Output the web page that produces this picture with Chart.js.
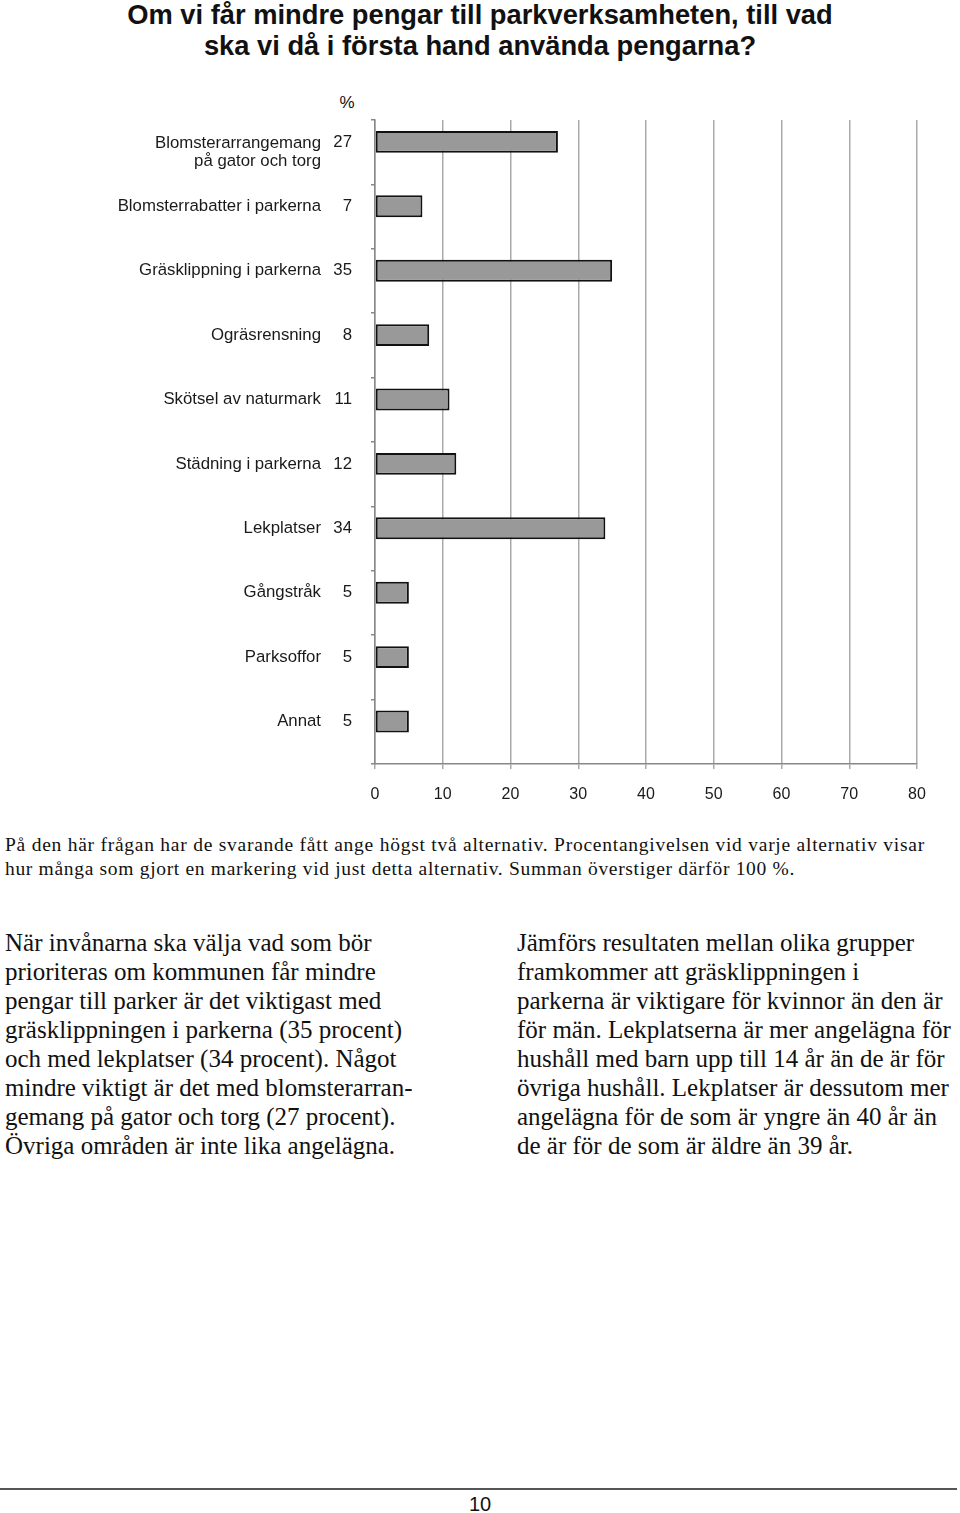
<!DOCTYPE html>
<html>
<head>
<meta charset="utf-8">
<script src="https://cdn.jsdelivr.net/npm/chart.js@4"></script>
<style>
    body { margin: 0; width: 960px; height: 1513px; position: relative; background: #fff; overflow: hidden; color: #111; }
    .title { position: absolute; left: 0; top: -1px; width: 960px; text-align: center; font: bold 27.3px/31px 'Liberation Sans', Arial, sans-serif; }
    .pct { position: absolute; left: 327px; top: 93px; width: 40px; text-align: center; font: 17px/20px 'Liberation Sans', Arial, sans-serif; }
    #chart-box { position: absolute; left: 0; top: 100px; width: 960px; height: 704px; }
    .caption { position: absolute; left: 5px; top: 833px; font: 19.5px/24px 'Liberation Serif', 'Times New Roman', serif; white-space: nowrap; }
    .col { position: absolute; top: 928px; font: 25px/29px 'Liberation Serif', 'Times New Roman', serif; white-space: nowrap; }
    .footer-line { position: absolute; left: 0; top: 1488px; width: 957px; height: 2px; background: #555; }
    .page-no { position: absolute; left: 0; top: 1493px; width: 960px; text-align: center; font: 20px/22px 'Liberation Sans Narrow', 'Liberation Sans', Arial, sans-serif; }
</style>
</head>
<body>
<div class="title">Om vi får mindre pengar till parkverksamheten, till vad<br>ska vi då i första hand använda pengarna?</div>
<div class="pct">%</div>
<div id="chart-box"><canvas id="bars"></canvas></div>

<div class="caption">
    <div class="fit" data-w="920">På den här frågan har de svarande fått ange högst två alternativ. Procentangivelsen vid varje alternativ visar</div>
    <div class="fit" data-w="790">hur många som gjort en markering vid just detta alternativ. Summan överstiger därför 100 %.</div>
</div>

<div class="col" style="left:5px">När invånarna ska välja vad som bör<br>prioriteras om kommunen får mindre<br>pengar till parker är det viktigast med<br>gräsklippningen i parkerna (35 procent)<br>och med lekplatser (34 procent). Något<br>mindre viktigt är det med blomsterarran-<br>gemang på gator och torg (27 procent).<br>Övriga områden är inte lika angelägna.</div>
<div class="col" style="left:517px">Jämförs resultaten mellan olika grupper<br>framkommer att gräsklippningen i<br>parkerna är viktigare för kvinnor än den är<br>för män. Lekplatserna är mer angelägna för<br>hushåll med barn upp till 14 år än de är för<br>övriga hushåll. Lekplatser är dessutom mer<br>angelägna för de som är yngre än 40 år än<br>de är för de som är äldre än 39 år.</div>

<div class="footer-line"></div>
<div class="page-no">10</div>

<script>
// Data
const categories = [
    ['Blomsterarrangemang', 'på gator och torg'],
    'Blomsterrabatter i parkerna',
    'Gräsklippning i parkerna',
    'Ogräsrensning',
    'Skötsel av naturmark',
    'Städning i parkerna',
    'Lekplatser',
    'Gångstråk',
    'Parksoffor',
    'Annat'
];
const percentValues = [27, 7, 35, 8, 11, 12, 34, 5, 5, 5];
const xTickValues = [0, 10, 20, 30, 40, 50, 60, 70, 80];

// bars (and their labels) sit a bit above the middle of each band, like the original
const barShift = 0.34;
const sansFont = "'Liberation Sans', Arial, sans-serif";
const gridGray = '#aaaaaa';

// stretch the caption lines to the width they have in the print
document.querySelectorAll('.fit').forEach(el => {
    el.style.display = 'inline-block';
    const natural = el.getBoundingClientRect().width;
    const extra = (Number(el.dataset.w) - natural) / el.textContent.length;
    el.style.letterSpacing = extra + 'px';
    el.style.display = 'block';
});

function labelScale(weight, width, padding, labelFor, nudgeMultiLine) {
    return {
        type: 'linear',
        position: 'left',
        weight: weight,
        min: 0,
        max: categories.length,
        reverse: true,
        offset: false,
        grid: { display: false, drawTicks: false, offset: false },
        border: { display: false },
        afterBuildTicks: scale => {
            // a two-line label hangs down from the bar's middle
            scale.ticks = categories.map((c, i) => ({
                value: i + barShift + (nudgeMultiLine && Array.isArray(c) ? 0.17 : 0)
            }));
        },
        afterFit: scale => { scale.width = width; },
        ticks: {
            autoSkip: false,
            padding: padding,
            color: '#1a1a1a',
            font: { family: sansFont, size: 16.8, lineHeight: 1.07 },
            callback: (value, index) => labelFor(index)
        }
    };
}

const ctx = document.getElementById('bars').getContext('2d');
new Chart(ctx, {
    type: 'bar',
    data: {
        datasets: [{
            data: percentValues.map((v, i) => ({ x: v, y: i + barShift })),
            backgroundColor: '#999999',
            borderColor: '#111111',
            borderWidth: 2,
            borderSkipped: false,
            categoryPercentage: 1,
            barPercentage: 0.34,
            xAxisID: 'x',
            yAxisID: 'y'
        }]
    },
    options: {
        indexAxis: 'y',
        responsive: true,
        maintainAspectRatio: false,
        animation: false,
        layout: { padding: { top: 20, right: 43, left: 0, bottom: 0 } },
        plugins: {
            legend: { display: false },
            tooltip: { enabled: false }
        },
        scales: {
            x: {
                type: 'linear',
                min: 0,
                max: 80,
                afterBuildTicks: scale => {
                    scale.ticks = xTickValues.map(v => ({ value: v }));
                },
                afterFit: scale => { scale.height = 40; },
                grid: { color: gridGray, lineWidth: 1.5, tickLength: 5 },
                border: { color: '#888888', width: 1.5 },
                ticks: {
                    padding: 16,
                    color: '#1a1a1a',
                    font: { family: sansFont, size: 16 }
                }
            },
            y: {
                type: 'linear',
                position: 'left',
                weight: 0,
                min: 0,
                max: categories.length,
                reverse: true,
                offset: false,
                afterFit: scale => { scale.width = 23; },
                grid: { drawOnChartArea: false, offset: false, color: '#888888', lineWidth: 1.5, tickLength: 4 },
                border: { color: '#888888', width: 1.5 },
                ticks: { stepSize: 1, display: false }
            },
            yNames: labelScale(2, 330, 9, i => categories[i], true),
            yValues: labelScale(1, 22, 0, i => String(percentValues[i]), false)
        }
    }
});
</script>
</body>
</html>
